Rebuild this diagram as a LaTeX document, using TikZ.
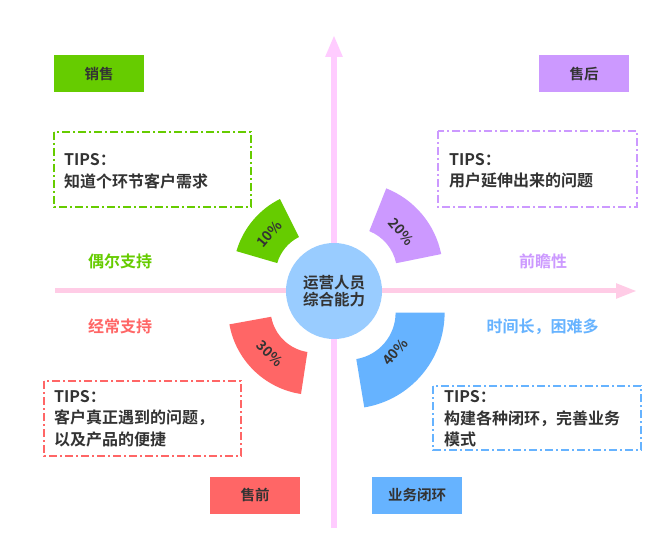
\documentclass[tikz,border=0pt]{standalone}
\usepackage{fontspec}
\setmainfont{Noto Sans CJK SC}[BoldFont={Noto Sans CJK SC Bold}]
\usetikzlibrary{arrows.meta}
\definecolor{cgreen}{HTML}{66CC00}
\definecolor{cpurple}{HTML}{CC99FF}
\definecolor{cred}{HTML}{FF6666}
\definecolor{cblue}{HTML}{66B3FF}
\definecolor{ccircle}{HTML}{99CCFF}
\definecolor{vaxis}{HTML}{FFCCFF}
\definecolor{haxis}{HTML}{FFCCE6}
\definecolor{cdark}{HTML}{333333}
\begin{document}
\begin{tikzpicture}[x=1pt,y=1pt,
  hdr/.style={minimum width=90pt,minimum height=37pt,inner sep=0pt,font=\bfseries\fontsize{14.5}{17}\selectfont,text=cdark},
  tipbox/.style={line width=1.5pt,dash pattern=on 8pt off 3pt on 2pt off 3pt},
  tiptext/.style={anchor=west,inner sep=0pt,align=left,font=\bfseries\fontsize{16}{21.5}\selectfont,text=cdark},
  side/.style={font=\bfseries\fontsize{16}{19}\selectfont,inner sep=0pt},
  pct/.style={font=\bfseries\fontsize{14}{16}\selectfont,text=cdark,inner sep=0pt}]
\useasboundingbox (0,0) rectangle (670,558);
\fill[white] (0,0) rectangle (670,558);
% axes
\coordinate (hl) at (55,267);
\coordinate (hr) at (637,267);
\coordinate (vb) at (334,30);
\coordinate (vt) at (334,523);
\draw[haxis,line width=5pt,-{Triangle[width=14pt,length=21pt]}] (hl) -- (hr);
\draw[vaxis,line width=5.5pt,-{Triangle[width=16pt,length=22pt]}] (vb) -- (vt);
% sectors
\fill[cgreen,shift={(318,283)}] (116.6:85) arc[start angle=116.6,end angle=163.7,radius=85] -- (163.7:42.5) arc[start angle=163.7,end angle=116.6,radius=42.5] -- cycle;
\fill[cpurple,shift={(353,286)}] (11.5:90) arc[start angle=11.5,end angle=68.3,radius=90] -- (68.3:44) arc[start angle=68.3,end angle=11.5,radius=44] -- cycle;
\fill[cred,shift={(314,249)}] (190.3:86) arc[start angle=190.3,end angle=261.3,radius=86] -- (261.3:43.5) arc[start angle=261.3,end angle=190.3,radius=43.5] -- cycle;
\fill[cblue,shift={(348.6,245.3)}] (279.4:96) arc[start angle=279.4,end angle=360,radius=96] -- (0:47) arc[start angle=360,end angle=279.4,radius=47] -- cycle;
\node[pct,rotate=50] (p10) at (269.2,323.9) {10\%};
\node[pct,rotate=-50] (p20) at (401.3,326.4) {20\%};
\node[pct,rotate=-44] (p30) at (270,204.5) {30\%};
\node[pct,rotate=50] (p40) at (395.1,205.9) {40\%};
% centre
\node[circle,fill=ccircle,minimum size=96pt,inner sep=0pt,align=center,text=cdark,font=\bfseries\fontsize{15.5}{17}\selectfont] (core) at (334,267) {运营人员\\综合能力};
% header boxes
\node[hdr,fill=cgreen] (sale) at (99,484.5) {销售};
\node[hdr,fill=cpurple] (after) at (584,484.5) {售后};
\node[hdr,fill=cred] (pre) at (255,63) {售前};
\node[hdr,fill=cblue] (loop) at (417,63) {业务闭环};
% tips boxes
\draw[tipbox,cgreen] (54,426) rectangle (251,351);
\node[tiptext] (tg) at (64,387) {TIPS：\\知道个环节客户需求};
\draw[tipbox,cpurple] (438,427) rectangle (637,351);
\node[tiptext] (tp) at (449,387.5) {TIPS：\\用户延伸出来的问题};
\draw[tipbox,cred] (44,177) rectangle (241,102);
\node[tiptext] (tr) at (54,139.5) {TIPS：\\客户真正遇到的问题，\\以及产品的便捷};
\draw[tipbox,cblue] (433,172) rectangle (641,108);
\node[tiptext] (tb) at (444,139) {TIPS：\\构建各种闭环，完善业务\\模式};
% side labels
\node[side,text=cgreen] (l1) at (120,297) {偶尔支持};
\node[side,text=cred] (l2) at (120,232) {经常支持};
\node[side,text=cpurple] (l3) at (543,297) {前瞻性};
\node[side,text=cblue] (l4) at (542.5,231) {时间长，困难多};
\end{tikzpicture}
\end{document}
